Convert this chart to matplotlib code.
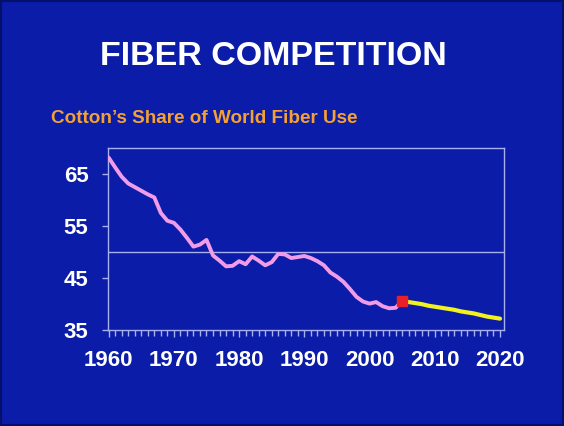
import matplotlib
matplotlib.use("Agg")
import matplotlib.pyplot as plt
from matplotlib.patches import Rectangle
from matplotlib.ticker import MultipleLocator

plt.rcParams['font.family'] = ['Liberation Sans', 'DejaVu Sans']

# cotton's share of world fiber use (%), history and projection
hist_years = list(range(1960, 2006))
hist_share = [68.2, 66.3, 64.5, 63.2, 62.5, 61.8, 61.1, 60.5, 57.5, 56.0,
              55.6, 54.3, 52.7, 51.0, 51.4, 52.3, 49.3, 48.3, 47.2, 47.3,
              48.2, 47.6, 49.1, 48.3, 47.4, 48.0, 49.6, 49.5, 48.8, 49.0,
              49.2, 48.8, 48.2, 47.4, 46.0, 45.2, 44.2, 42.8, 41.3, 40.4,
              40.0, 40.3, 39.5, 39.1, 39.2, 40.6]
proj_years = list(range(2005, 2021))
proj_share = [40.6, 40.3, 40.1, 39.9, 39.6, 39.4, 39.2, 39.0, 38.8, 38.5,
              38.3, 38.1, 37.8, 37.5, 37.3, 37.1]
ref_level = 50
yticks = [35, 45, 55, 65]
xticks = [1960, 1970, 1980, 1990, 2000, 2010, 2020]

bg = '#0A1CA8'
axis_col = '#A8B0F0'

fig = plt.figure(figsize=(5.64, 4.26), dpi=100, facecolor=bg)
fig.patches.append(Rectangle((0, 0), 1, 1, transform=fig.transFigure,
                             fill=False, edgecolor='#04106A', linewidth=3))

fig.text(0.484, 0.868, 'FIBER COMPETITION', color='white', fontsize=24.5,
         fontweight='bold', ha='center', va='center')
fig.text(0.09, 0.722, 'Cotton\u2019s Share of World Fiber Use', color='#F5A033',
         fontsize=13.6, fontweight='bold', ha='left', va='center')

ax = fig.add_axes([0.1915, 0.2265, 0.702, 0.4255])
ax.set_facecolor(bg)

ax.axhline(ref_level, color=axis_col, linewidth=1)
ax.plot(hist_years, hist_share, color='#F29CE8', linewidth=2.8,
        solid_capstyle='round', zorder=3)
ax.plot(proj_years, proj_share, color='#F2F21E', linewidth=3,
        solid_capstyle='round', zorder=3)
ax.plot(hist_years[-1], hist_share[-1], 's', color='#E8202A',
        markersize=6.5, zorder=4)

ax.set_xlim(1959.9, 2020.6)
ax.set_ylim(35, 70)
ax.set_xticks(xticks)
ax.set_yticks(yticks)
ax.xaxis.set_minor_locator(MultipleLocator(1))

for s in ax.spines.values():
    s.set_color(axis_col)
    s.set_linewidth(1)

ax.tick_params(axis='x', which='major', colors=axis_col, length=5, width=1,
               pad=10, labelcolor='white', labelsize=16)
ax.tick_params(axis='x', which='minor', colors=axis_col, length=4, width=1)
ax.tick_params(axis='y', colors=axis_col, length=4, width=1, pad=10,
               labelcolor='white', labelsize=16)
for lab in ax.get_xticklabels() + ax.get_yticklabels():
    lab.set_fontweight('bold')

fig.savefig('out.png', dpi=100, facecolor=bg)
